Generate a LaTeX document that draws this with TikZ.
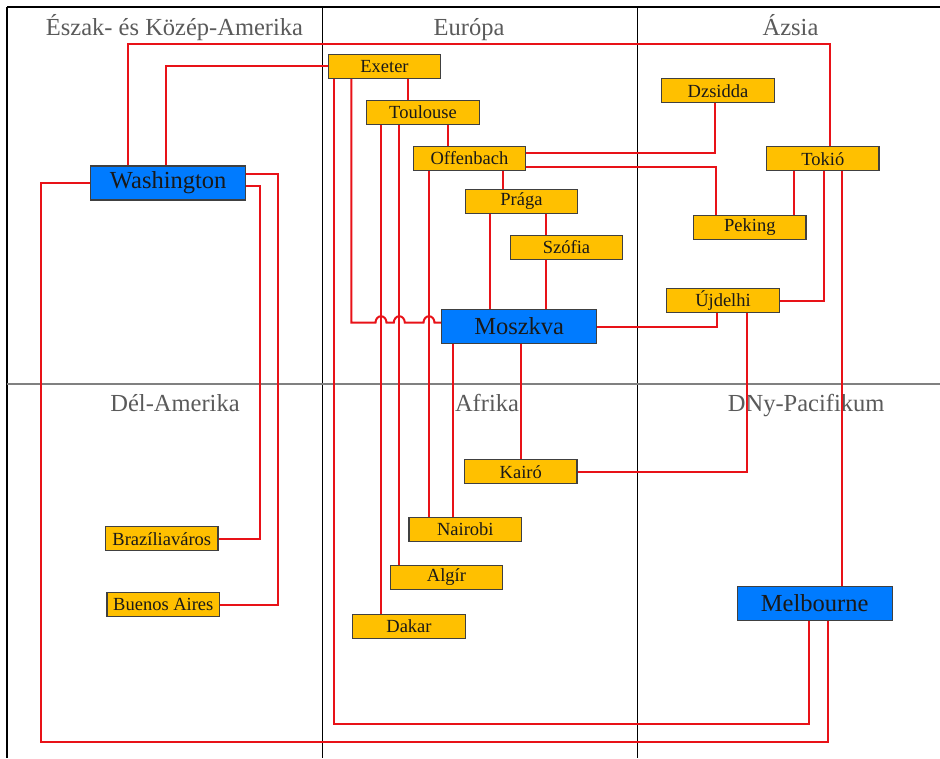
\documentclass[tikz,border=0pt]{standalone}
\usepackage{fontspec}
\setmainfont{Liberation Serif}
\definecolor{linkred}{RGB}{232,18,24}
\definecolor{cityorange}{RGB}{255,192,0}
\definecolor{cityblue}{RGB}{0,123,255}
\definecolor{boxline}{RGB}{64,64,64}
\definecolor{titlegray}{RGB}{90,90,90}
\pgfdeclarelayer{background}
\pgfsetlayers{background,main}
\tikzset{
  city/.style={draw=boxline, line width=1.3pt, fill=cityorange, minimum width=112.5pt, minimum height=24pt, inner sep=0pt, font=\fontsize{18.5}{20}\selectfont, text=black!90},
  hub/.style={draw=boxline, line width=1.3pt, fill=cityblue, minimum width=155pt, minimum height=34pt, inner sep=0pt, font=\fontsize{24.5}{26}\selectfont, text=black!90},
  region/.style={anchor=base, inner sep=0pt, text=titlegray, font=\fontsize{24.5}{26}\selectfont},
  link/.style={draw=linkred, line width=2pt, line join=miter},
  frameline/.style={draw=black, line width=1.2pt},
  midline/.style={draw=gray, line width=2pt},
  hop/.style={}
}
\begin{document}
\begin{tikzpicture}[x=1pt,y=-1pt]
\useasboundingbox (0,0) rectangle (940,758);
% nodes
\node[hub] (washington) at (168.2,183) {Washington};
\node[hub] (moszkva) at (519.2,326.5) {Moszkva};
\node[hub] (melbourne) at (814.7,603.3) {Melbourne};
\node[city] (exeter) at (384.5,66.3) {Exeter};
\node[city] (toulouse) at (423,112.3) {Toulouse};
\node[city] (offenbach) at (469.5,158.2) {Offenbach};
\node[city] (praga) at (521.5,201.5) {Prága};
\node[city] (szofia) at (566.5,247.3) {Szófia};
\node[city] (kairo) at (520.8,471.7) {Kairó};
\node[city] (nairobi) at (465.3,529.5) {Nairobi};
\node[city] (algir) at (446.5,577.5) {Algír};
\node[city] (dakar) at (409,626.2) {Dakar};
\node[city] (brazilia) at (161.8,538.7) {Brazíliaváros};
\node[city] (buenos) at (163.3,604.8) {Buenos Aires};
\node[city] (dzsidda) at (718,90.7) {Dzsidda};
\node[city] (tokio) at (822.8,158.7) {Tokió};
\node[city] (peking) at (749.8,227.2) {Peking};
\node[city] (ujdelhi) at (723,300.5) {Újdelhi};
\begin{pgfonlayer}{background}
% frame
\draw[frameline] (7,7) -- (940,7);
\draw[frameline] (7,7) -- (7,758);
\draw[frameline] (322.3,7) -- (322.3,758);
\draw[frameline] (637.3,7) -- (637.3,758);
\draw[midline] (7,383.5) -- (940,383.5);
% region titles
\node[region] (t1) at (174.5,35) {Észak- és Közép-Amerika};
\node[region] (t2) at (469,35) {Európa};
\node[region] (t3) at (790.5,35) {Ázsia};
\node[region] (t4) at (175,411.5) {Dél-Amerika};
\node[region] (t5) at (487,411.5) {Afrika};
\node[region] (t6) at (806.2,411.5) {DNy-Pacifikum};
% connectors
\draw[link] (washington.north -| 127.5,0) -- (127.5,44) -| (tokio.north -| 830,0);
\draw[link] (washington.north -| 165.7,0) |- (exeter.west);
\draw[link] (washington.west) -| (41.3,742.3) -| (melbourne.south -| 827.7,0);
\draw[link] (washington.east |- 0,174) -| (buenos.east -| 277.5,0) -- (buenos.east);
\draw[link] (washington.east |- 0,185.7) -| (brazilia.east -| 260.3,0) -- (brazilia.east);
\draw[link] (exeter.south -| 334,0) -- (334,724.3) -| (melbourne.south -| 809,0);
\draw[link] (exeter.south -| 351.3,0) -- (351.3,322.7) -- (375.5,322.7)
   arc[start angle=180,end angle=0,x radius=5.5pt,y radius=6.5pt] -- (393.8,322.7)
   arc[start angle=180,end angle=0,x radius=5.5pt,y radius=6.5pt] -- (423.5,322.7)
   arc[start angle=180,end angle=0,x radius=5.5pt,y radius=6.5pt] -- (moszkva.west |- 0,322.7);
\draw[link] (exeter.south -| 408.3,0) -- (toulouse.north -| 408.3,0);
\draw[link] (toulouse.south -| 381,0) -- (dakar.north -| 381,0);
\draw[link] (toulouse.south -| 399.3,0) -- (algir.north -| 399.3,0);
\draw[link] (toulouse.south -| 448.3,0) -- (offenbach.north -| 448.3,0);
\draw[link] (offenbach.south -| 429,0) -- (nairobi.north -| 429,0);
\draw[link] (offenbach.south -| 503,0) -- (praga.north -| 503,0);
\draw[link] (offenbach.east |- 0,152.7) -| (dzsidda.south -| 715,0);
\draw[link] (offenbach.east |- 0,167) -| (peking.north -| 715.7,0);
\draw[link] (praga.south -| 489.7,0) -- (moszkva.north -| 489.7,0);
\draw[link] (praga.south -| 545.5,0) -- (szofia.north -| 545.5,0);
\draw[link] (szofia.south -| 545.5,0) -- (moszkva.north -| 545.5,0);
\draw[link] (moszkva.east) -| (ujdelhi.south -| 717,0);
\draw[link] (moszkva.south -| 453.3,0) -- (nairobi.north -| 453.3,0);
\draw[link] (moszkva.south -| 521,0) -- (kairo.north -| 521,0);
\draw[link] (kairo.east) -| (ujdelhi.south -| 747.3,0);
\draw[link] (tokio.south -| 794,0) -- (peking.north -| 794,0);
\draw[link] (tokio.south -| 824.3,0) |- (ujdelhi.east);
\draw[link] (tokio.south -| 842.3,0) -- (melbourne.north -| 842.3,0);
\end{pgfonlayer}
\end{tikzpicture}
\end{document}
